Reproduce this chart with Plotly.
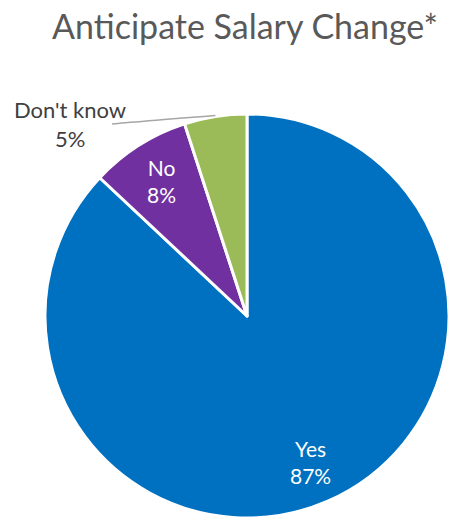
import math
import plotly.graph_objects as go

# Survey responses
labels = ["Yes", "No", "Don't know"]
shares = [87, 8, 5]
colors = ["#0070C0", "#7030A0", "#9BBB59"]
title_text = "Anticipate Salary Change*"

W, H = 450, 518
cx, cy, R = 247, 316, 202  # pie centre and radius in pixels

fig = go.Figure(
    go.Pie(
        labels=labels,
        values=shares,
        sort=False,
        direction="clockwise",
        rotation=0,
        marker=dict(colors=colors, line=dict(color="white", width=3)),
        textinfo="none",
        showlegend=False,
        domain=dict(x=[(cx - R) / W, (cx + R) / W], y=[(H - cy - R) / H, (H - cy + R) / H]),
    )
)

total = sum(shares)
cum = 0.0
mids = []
for v in shares:
    mids.append((cum + v / 2) / total * 2 * math.pi)
    cum += v


def to_paper(px, py):
    return px / W, 1 - py / H


# Inside labels for the two larger slices
for i in range(2):
    px = cx + 0.79 * R * math.sin(mids[i])
    py = cy - 0.79 * R * math.cos(mids[i])
    x, y = to_paper(px, py)
    fig.add_annotation(
        x=x, y=y, xref="paper", yref="paper",
        text=f"{labels[i]}<br>{shares[i]}%",
        showarrow=False, xanchor="center", yanchor="middle",
        font=dict(family="Lato", size=21, color="white"),
    )

# Outside label with leader line for the smallest slice
ex = cx + R * math.sin(mids[2])
ey = cy - R * math.cos(mids[2])
lx, ly = 112, 124
fig.add_shape(
    type="path",
    path=f"M {lx/W} {1-ly/H} Q {(lx+8)/W} {1-(ly-1)/H} {ex/W} {1-(ey-1)/H}",
    xref="paper", yref="paper",
    line=dict(color="#A6A6A6", width=1.5),
)
x, y = to_paper(70, 124)
fig.add_annotation(
    x=x, y=y, xref="paper", yref="paper",
    text=f"{labels[2]}<br>{shares[2]}%",
    showarrow=False, xanchor="center", yanchor="middle",
    font=dict(family="Lato", size=22, color="#404040"),
)

fig.update_layout(
    width=W, height=H,
    margin=dict(l=0, r=0, t=0, b=0),
    paper_bgcolor="white",
    plot_bgcolor="white",
    title=dict(
        text=title_text, x=245 / W, xanchor="center",
        y=1 - 27 / H, yanchor="middle", yref="container",
        font=dict(family="Lato", size=34, color="#595959"),
    ),
    font=dict(family="Lato"),
)

fig.write_html("out.html")
